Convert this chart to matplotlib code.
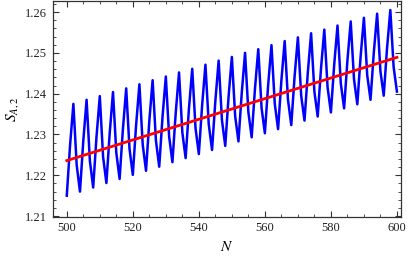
import matplotlib
matplotlib.use("Agg")
import matplotlib.pyplot as plt
from matplotlib.ticker import MultipleLocator

# N = 500..600, one value per integer
N = list(range(500, 601))
S_A2 = [
    1.2150, 1.2274, 1.2375, 1.2225,
    1.2160, 1.2284, 1.2385, 1.2235,
    1.2170, 1.2294, 1.2394, 1.2245,
    1.2181, 1.2303, 1.2404, 1.2255,
    1.2191, 1.2313, 1.2413, 1.2265,
    1.2201, 1.2323, 1.2423, 1.2275,
    1.2211, 1.2333, 1.2433, 1.2285,
    1.2221, 1.2343, 1.2442, 1.2295,
    1.2232, 1.2353, 1.2452, 1.2305,
    1.2242, 1.2363, 1.2461, 1.2315,
    1.2252, 1.2372, 1.2471, 1.2325,
    1.2262, 1.2382, 1.2481, 1.2335,
    1.2272, 1.2392, 1.2490, 1.2345,
    1.2283, 1.2402, 1.2500, 1.2355,
    1.2293, 1.2412, 1.2509, 1.2365,
    1.2303, 1.2422, 1.2519, 1.2375,
    1.2313, 1.2432, 1.2529, 1.2385,
    1.2323, 1.2442, 1.2538, 1.2395,
    1.2334, 1.2451, 1.2548, 1.2405,
    1.2344, 1.2461, 1.2557, 1.2415,
    1.2354, 1.2471, 1.2567, 1.2425,
    1.2364, 1.2481, 1.2577, 1.2435,
    1.2374, 1.2491, 1.2586, 1.2445,
    1.2385, 1.2501, 1.2596, 1.2455,
    1.2395, 1.2511, 1.2605, 1.2465,
    1.2405,
]

# linear fit
fit_N = [500, 600]
fit_S = [1.2236, 1.2489]

x_ticks = [500, 520, 540, 560, 580, 600]
y_ticks = [1.21, 1.22, 1.23, 1.24, 1.25, 1.26]

plt.rcParams["font.family"] = ["Liberation Serif", "DejaVu Serif"]
plt.rcParams["mathtext.fontset"] = "stix"

fig = plt.figure(figsize=(4.07, 2.61), dpi=100)
ax = fig.add_axes([0.130, 0.169, 0.855, 0.827])

ax.plot(N, S_A2, color="#0000ff", linewidth=1.8, zorder=2)
ax.plot(fit_N, fit_S, color="#ff0000", linewidth=2.0, zorder=3)

ax.set_xlim(495.8, 601.2)
ax.set_ylim(1.2098, 1.2627)
ax.set_xticks(x_ticks)
ax.set_yticks(y_ticks)
ax.set_yticklabels([f"{v:.2f}" for v in y_ticks])
ax.xaxis.set_minor_locator(MultipleLocator(5))
ax.yaxis.set_minor_locator(MultipleLocator(0.002))

frame = "#333333"
for sp in ax.spines.values():
    sp.set_color(frame)
    sp.set_linewidth(0.9)
ax.tick_params(which="both", direction="in", top=True, right=True,
               color=frame, labelsize=9, labelcolor="#222222")
ax.tick_params(which="major", length=4, width=0.8, pad=4)
ax.tick_params(which="minor", length=2, width=0.6)

ax.set_xlabel("$N$", fontsize=11, labelpad=4)
ax.set_ylabel("$S_{A,2}$", fontsize=11, labelpad=3)

fig.savefig("out.png", dpi=100)
